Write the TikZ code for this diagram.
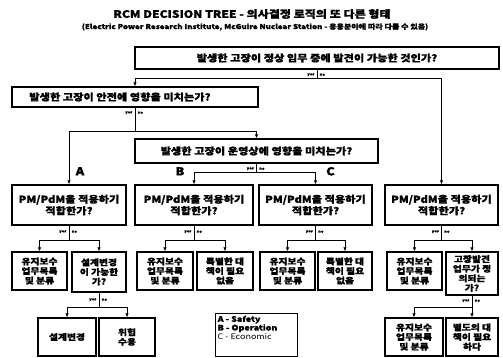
\documentclass[tikz,border=0pt]{standalone}
\usepackage{fontspec}
\setmainfont{Noto Sans CJK KR}[FakeStretch=1.18,BoldFeatures={FakeBold=1.2}]
\usetikzlibrary{arrows.meta,calc}
\begin{document}
\begin{tikzpicture}[x=1pt,y=-1pt,
  box/.style={draw=black,line width=1.4pt,fill=white,inner sep=1pt,align=center,font=\bfseries\fontsize{9.5}{11.5}\selectfont},
  sbox/.style={box,font=\bfseries\fontsize{8.3}{9.6}\selectfont},
  conn/.style={line width=1pt,-{Latex[length=4pt,width=3.6pt]}},
  yn/.style={font=\bfseries\fontsize{3.5}{4}\selectfont,inner sep=0.5pt},
  lab/.style={font=\bfseries\fontsize{11}{12}\selectfont,inner sep=0pt}]
\useasboundingbox (0,0) rectangle (503,358);
\fill[white] (0,0) rectangle (503,358);
% title
\node[font=\bfseries\fontsize{10.2}{12}\selectfont,inner sep=0pt] (title) at (252,14) {RCM DECISION TREE - 의사결정 로직의 또 다른 형태};
\node[font=\bfseries\fontsize{6.8}{7}\selectfont,inner sep=0pt] (sub) at (255,27) {(Electric Power Research Institute, McGuire Nuclear Station - 응용분야에 따라 다를 수 있음)};
% questions
\node[box,minimum width=364pt,minimum height=22pt] (q1) at (317,58) {발생한 고장이 정상 임무 중에 발견이 가능한 것인가?};
\node[box,minimum width=246pt,minimum height=20pt] (q2) at (135,97) {\hspace*{-30pt}발생한 고장이 안전에 영향을 미치는가?};
\node[box,minimum width=243pt,minimum height=24pt] (q3) at (256.5,151) {발생한 고장이 운영상에 영향을 미치는가?};
% PM boxes
\node[box,minimum width=114pt,minimum height=40pt] (pA) at (69,205) {PM/PdM을 적용하기\\적합한가?};
\node[box,minimum width=118pt,minimum height=40pt] (pB) at (194,205) {PM/PdM을 적용하기\\적합한가?};
\node[box,minimum width=113pt,minimum height=40pt] (pC) at (315.5,205) {PM/PdM을 적용하기\\적합한가?};
\node[box,minimum width=113pt,minimum height=40pt] (pD) at (441.5,205) {PM/PdM을 적용하기\\적합한가?};
% sub boxes
\node[sbox,minimum width=55pt,minimum height=38pt] (a1) at (39.5,271) {유지보수\\업무목록\\및 분류};
\node[sbox,minimum width=54pt,minimum height=40pt] (a2) at (99,272) {설계변경\\이 가능한\\가?};
\node[sbox,minimum width=56pt,minimum height=38pt] (b1) at (165,271) {유지보수\\업무목록\\및 분류};
\node[sbox,minimum width=56pt,minimum height=38pt] (b2) at (225,271) {특별한 대\\책이 필요\\없음};
\node[sbox,minimum width=55pt,minimum height=38pt] (c1) at (287.5,271) {유지보수\\업무목록\\및 분류};
\node[sbox,minimum width=54pt,minimum height=38pt] (c2) at (345,271) {특별한 대\\책이 필요\\없음};
\node[sbox,minimum width=55pt,minimum height=38pt] (d1) at (414.5,271) {유지보수\\업무목록\\및 분류};
\node[sbox,minimum width=52pt,minimum height=43pt] (d2) at (472,273.5) {고장발견\\업무가 정\\의되는\\가?};
% fourth level
\node[sbox,minimum width=58pt,minimum height=38pt] (a21) at (67,337) {설계변경};
\node[sbox,minimum width=56pt,minimum height=38pt] (a22) at (127,337) {위험\\수용};
\node[sbox,minimum width=58pt,minimum height=38pt] (d21) at (414,337) {유지보수\\업무목록\\및 분류};
\node[sbox,minimum width=52pt,minimum height=38pt] (d22) at (472,337) {별도의 대\\책이 필요\\하다};
% legend
\node[draw=black,line width=1pt,minimum width=82pt,minimum height=43pt,inner sep=0pt] (leg) at (256,334.5) {};
\node[anchor=north west,inner sep=0pt,align=left,font=\fontsize{7.6}{8.6}\selectfont] (legt) at ($(leg.north west)+(3,3)$) {\textbf{A - Safety}\\\textbf{B - Operation}\\C - Economic};
% connectors
\draw[conn] (q1.south) -- ++(0,9) -| (q2.north);
\draw[conn] (q1.south) -- ++(0,9) -| (pD.north);
\draw[conn] (q2.south) -- ++(0,24) -| (pA.north);
\draw[conn] (q2.south) -- ++(0,24) -| (q3.north);
\draw[conn] (q3.south) -- ++(0,9) -| (pB.north);
\draw[conn] (q3.south) -- ++(0,9) -| (pC.north);
\foreach \p/\l/\r in {pA/a1/a2,pB/b1/b2,pC/c1/c2,pD/d1/d2}{
  \draw[conn] (\p.south) -- ++(0,15) -| (\l.north);
  \draw[conn] (\p.south) -- ++(0,15) -| (\r.north);
  \node[yn,anchor=east] (\p y) at ($(\p.south)+(-2,6)$) {yes};
  \node[yn,anchor=west] (\p n) at ($(\p.south)+(2,6)$) {no};
}
\draw[conn] (a2.south) -- ++(0,15) -| (a21.north);
\draw[conn] (a2.south) -- ++(0,15) -| (a22.north);
\draw[conn] (d2.south) -- ++(0,12) -| (d21.north);
\draw[conn] (d2.south) -- (d22.north);
% yes/no labels
\node[yn,anchor=east] (q1y) at ($(q1.south)+(-2,5)$) {yes};
\node[yn,anchor=west] (q1n) at ($(q1.south)+(2,5)$) {no};
\node[yn,anchor=east] (q2y) at ($(q2.south)+(-2,5)$) {yes};
\node[yn,anchor=west] (q2n) at ($(q2.south)+(2,5)$) {no};
\node[yn,anchor=east] (q3y) at ($(q3.south)+(-2,5)$) {yes};
\node[yn,anchor=west] (q3n) at ($(q3.south)+(2,5)$) {no};
\node[yn,anchor=east] (a2y) at ($(a2.south)+(-2,7)$) {yes};
\node[yn,anchor=west] (a2n) at ($(a2.south)+(2,7)$) {no};
\node[yn,anchor=east] (d2y) at ($(d2.south)+(-2,5)$) {yes};
\node[yn,anchor=west] (d2n) at ($(d2.south)+(2,5)$) {no};
% branch letters
\node[lab] (lA) at ($(pA.north)+(11,-13)$) {A};
\node[lab] (lB) at ($(pB.north)+(-14,-13)$) {B};
\node[lab] (lC) at ($(pC.north)+(15,-13)$) {C};
\end{tikzpicture}
\end{document}
